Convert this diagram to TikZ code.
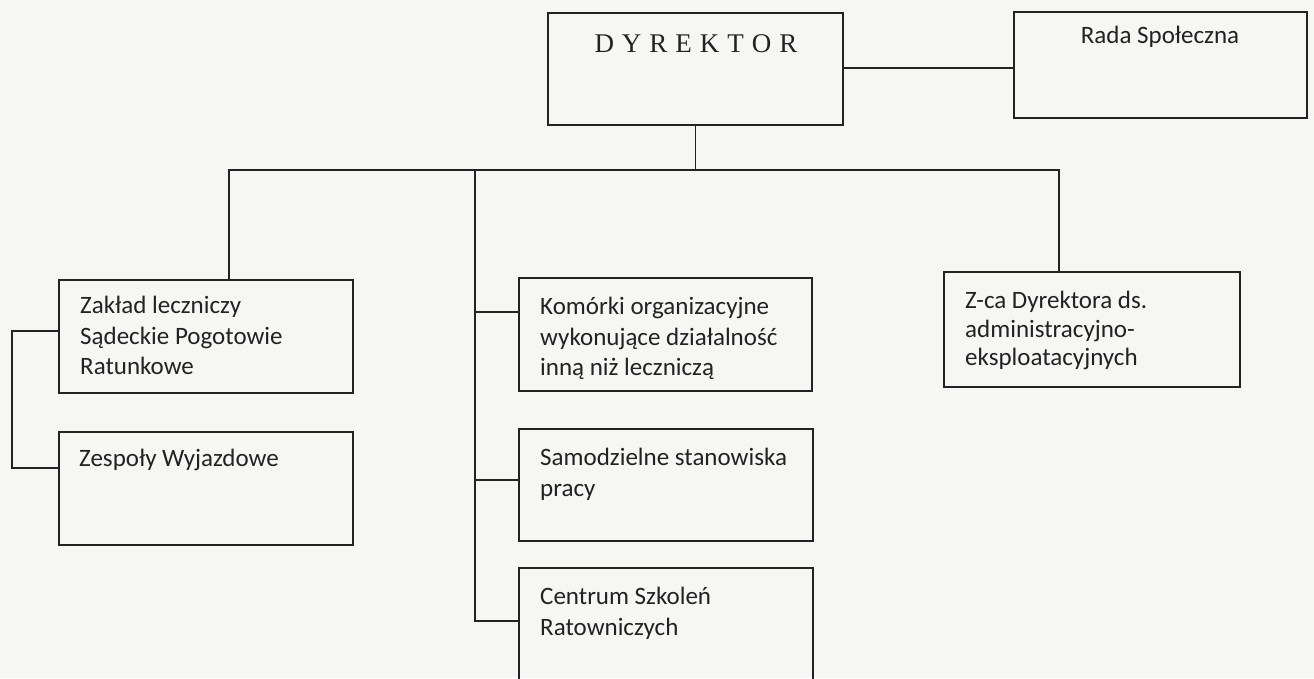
\documentclass[tikz,border=0pt]{standalone}
\usepackage{fontspec}
\setmainfont{Carlito}
\newfontfamily\serifdyr{Liberation Serif}
\definecolor{paper}{RGB}{246,246,244}
\definecolor{ink}{RGB}{34,34,34}
\begin{document}
\begin{tikzpicture}[x=1pt,y=-1pt,
  box/.style={draw=ink, line width=1.4pt, rectangle, inner sep=0pt},
  txt/.style={anchor=north west, align=left, inner sep=0pt, text=ink,
    font=\fontsize{25}{30.5}\selectfont},
  conn/.style={draw=ink, line width=1.4pt}]
\useasboundingbox (0,0) rectangle (1314,678);
\fill[paper] (0,0) rectangle (1314,678);
\clip (0,0) rectangle (1314,678);
% boxes
\node[box, minimum width=295, minimum height=112] (dyr) at (695.5,69) {};
\node[box, minimum width=293, minimum height=106] (rada) at (1160.5,65) {};
\node[box, minimum width=294, minimum height=113] (zaklad) at (206,336.5) {};
\node[box, minimum width=294, minimum height=113] (zesp) at (206,488.5) {};
\node[box, minimum width=293, minimum height=113] (kom) at (665.5,334.5) {};
\node[box, minimum width=294, minimum height=112] (sam) at (666,485) {};
\node[box, minimum width=294, minimum height=140] (cent) at (666,638) {};
\node[box, minimum width=296, minimum height=115] (zca) at (1092,329.5) {};
% texts
\node[anchor=base, inner sep=0pt, text=ink, font=\serifdyr\fontsize{27}{30}\selectfont] (dyrT) at (696,52)
  {D\kern8pt Y\kern8pt R\kern8pt E\kern8pt K\kern8pt T\kern8pt O\kern8pt R};
\node[anchor=base, inner sep=0pt, text=ink, font=\fontsize{25}{30.5}\selectfont] (radaT) at (1160,43) {Rada Społeczna};
\node[txt] (zakladT) at (80,296) {\rule{0pt}{17pt}Zakład leczniczy\\Sądeckie Pogotowie\\Ratunkowe};
\node[txt] (zespT) at (79,449) {\rule{0pt}{17pt}Zespoły Wyjazdowe};
\node[txt] (komT) at (540,297) {\rule{0pt}{17pt}Komórki organizacyjne\\wykonujące działalność\\inną niż leczniczą};
\node[txt] (samT) at (540,448) {\rule{0pt}{17pt}Samodzielne stanowiska\\pracy};
\node[txt] (centT) at (540,587) {\rule{0pt}{17pt}Centrum Szkoleń\\Ratowniczych};
\node[txt, font=\fontsize{25}{28.5}\selectfont] (zcaT) at (965,291) {\rule{0pt}{17pt}Z-ca Dyrektora ds.\\administracyjno-\\eksploatacyjnych};
% connector points
\coordinate (busL) at (229,170);
\coordinate (busR) at (1059,170);
\coordinate (busM) at (475,170);
\coordinate (kJ) at (475,312);
\coordinate (sJ) at (475,480);
\coordinate (cJ) at (475,621);
\coordinate (zJ) at (12,331);
\coordinate (eJ) at (12,468);
% connectors
\draw[conn] (dyr.east |- 0,68) -- (rada.west |- 0,68);
\draw[conn] (dyr.south) -- (dyr.south |- busL);
\draw[conn] (busL |- zaklad.north) -- (busL) -- (busR) -- (busR |- zca.north);
\draw[conn] (busM) -- (cJ) -- (cJ -| cent.west);
\draw[conn] (kJ) -- (kJ -| kom.west);
\draw[conn] (sJ) -- (sJ -| sam.west);
\draw[conn] (zJ -| zaklad.west) -- (zJ) -- (eJ) -- (eJ -| zesp.west);
\end{tikzpicture}
\end{document}
